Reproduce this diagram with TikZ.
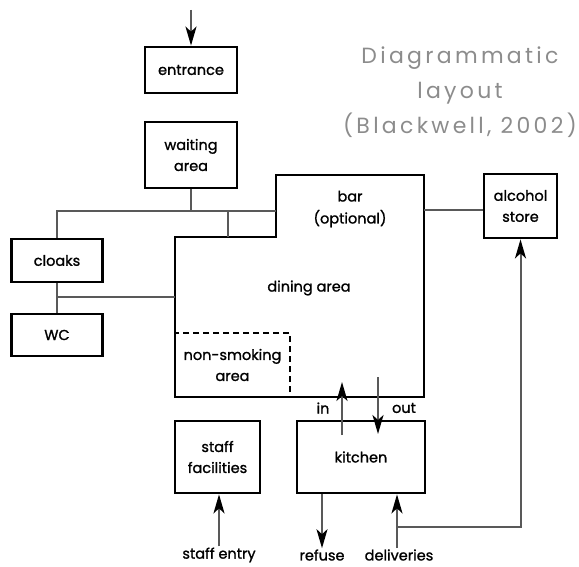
\documentclass[tikz,border=0pt]{standalone}
\usepackage{fontspec}
\setmainfont{Poppins}
\newfontfamily\roomfont[FakeBold=1.2]{Poppins}
\newfontfamily\titlefont[LetterSpace=15]{Poppins}
\usetikzlibrary{arrows.meta, positioning}

\begin{document}
\begin{tikzpicture}[
    x=1pt, y=-1pt,
    room/.style={rectangle, draw, line width=2.8pt, align=center, inner sep=0pt, font=\roomfont\fontsize{14.5}{21}\selectfont},
    wall/.style={draw, line width=2.8pt, line join=miter},
    link/.style={draw=black!65, line width=2pt},
    flow/.style={link, -{Stealth[length=19pt,width=11pt,inset=5pt,black]}},
    caption/.style={inner sep=1pt, font=\roomfont\fontsize{14.5}{16}\selectfont},
    headline/.style={align=center, text=black!45, font=\titlefont\fontsize{22}{35}\selectfont}
]
\useasboundingbox (0,0) rectangle (579,567);

% Title
\node[headline] (title) at (460,92) {Diagrammatic\\layout\\(Blackwell, 2002)};

% Rooms
\node[room, minimum width=92pt, minimum height=46pt] (entrance) at (191,70) {entrance};
\node[room, minimum width=92pt, minimum height=66pt] (waiting) at (191,155) {waiting\\area};
\node[room, minimum width=91pt, minimum height=43pt] (cloaks) at (57,260.5) {cloaks};
\node[room, minimum width=91pt, minimum height=42pt] (wc) at (57,335) {WC};
\node[room, minimum width=73pt, minimum height=64pt] (alcohol) at (520.5,206) {alcohol\\store};
\node[room, minimum width=85pt, minimum height=72pt] (staff) at (217.5,457) {staff\\facilities};
\node[room, minimum width=128pt, minimum height=72pt] (kitchen) at (361,457) {kitchen};

% Dining area with bar
\coordinate (barNW) at (276,175);
\coordinate (barNE) at (424,175);
\coordinate (diningSE) at (424,397);
\coordinate (diningSW) at (175,397);
\coordinate (diningNW) at (175,237);
\coordinate (barSW) at (276,237);
\draw[wall] (barNW) -- (barNE) -- (diningSE) -- (diningSW) -- (diningNW) -- (barSW) -- cycle;
\node[caption, align=center, font=\roomfont\fontsize{14.5}{22}\selectfont] (bar) at (350,209) {bar\\(optional)};
\node[caption] (dining) at (309,288) {dining area};
\node[room, draw, line width=2.2pt, dash pattern=on 6pt off 4pt, minimum width=115pt, minimum height=64pt] (nonsmoking) at (232.5,365) {non-smoking\\area};

% Links between rooms
\coordinate (hub) at (191,211);
\coordinate (diningN) at (228,237);
\coordinate (diningW) at (175,297);
\coordinate (barE) at (424,210);
\draw[link] (waiting) -- (hub);
\draw[link] (cloaks.north) -- (cloaks.north |- hub) -- (barNW |- hub);
\draw[link] (diningN |- hub) -- (diningN);
\draw[link] (cloaks) -- (wc);
\draw[link] (cloaks.south |- diningW) -- (diningW);
\draw[link] (barE) -- (alcohol.west |- barE);

% Flows
\coordinate (street) at (191,10);
\draw[flow] (street) -- (entrance);

\coordinate (inS) at (342,435);
\coordinate (inN) at (342,382);
\coordinate (outN) at (378,377);
\coordinate (outS) at (378,434);
\draw[flow] (inS) -- (inN);
\draw[flow] (outN) -- (outS);
\node[caption] (in) at (323,408) {in};
\node[caption] (out) at (404,408) {out};

\node[caption] (staffentry) at (219,555) {staff entry};
\node[caption] (refuse) at (322,555) {refuse};
\node[caption] (deliveries) at (399,555) {deliveries};
\coordinate (delivTurn) at (397,527);

\draw[flow] (staffentry.north) -- (staffentry.north |- staff.south);
\draw[flow] (refuse.north |- kitchen.south) -- (refuse.north);
\draw[flow] (delivTurn |- deliveries.north) -- (delivTurn |- kitchen.south);
\draw[flow] (delivTurn) -| (alcohol.south);

\end{tikzpicture}
\end{document}
